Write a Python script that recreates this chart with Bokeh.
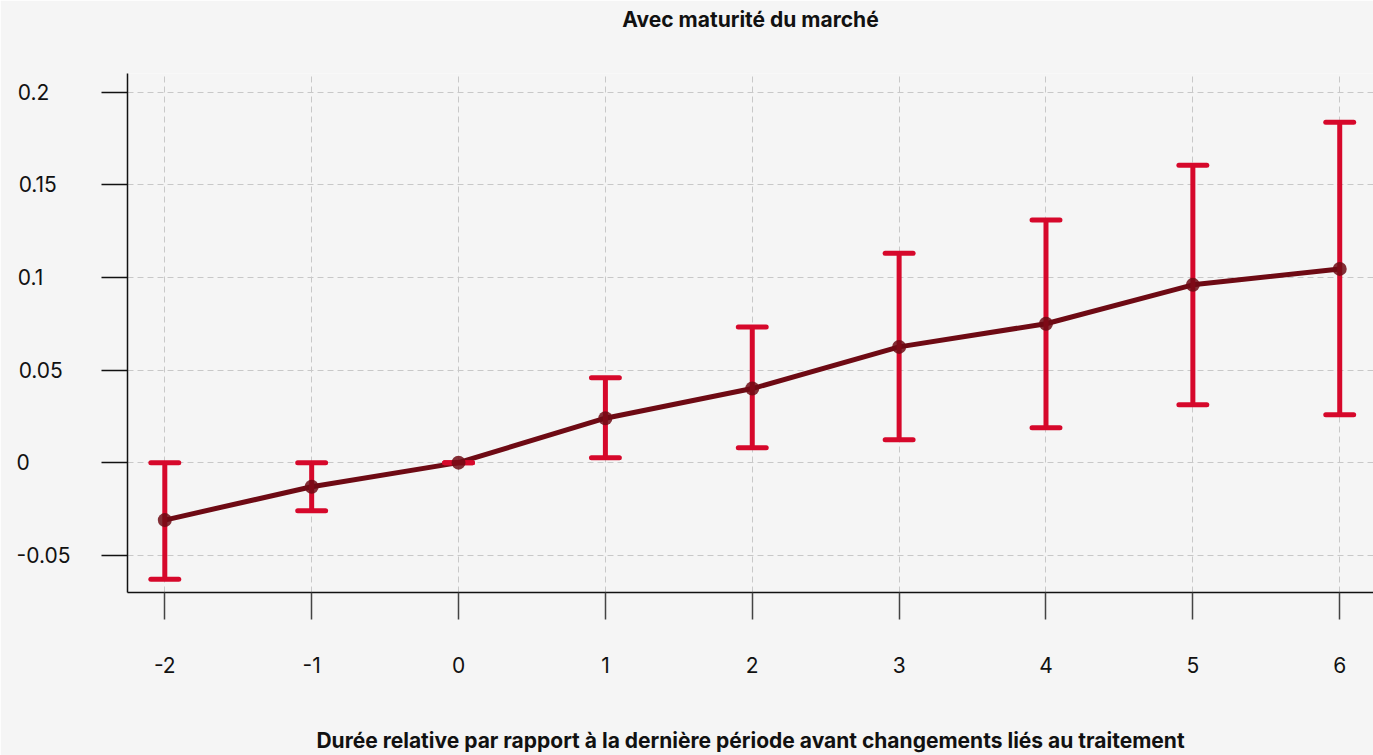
from bokeh.plotting import figure
from bokeh.models import Range1d, FixedTicker, ColumnDataSource, Title
from bokeh.embed import file_html
from bokeh.resources import INLINE

# Data
periods = [-2, -1, 0, 1, 2, 3, 4, 5, 6]
estimates = [-0.031, -0.013, 0.0, 0.024, 0.040, 0.0625, 0.075, 0.096, 0.1046]
lower = [-0.063, -0.026, 0.0, 0.0027, 0.008, 0.0124, 0.0189, 0.0313, 0.0259]
upper = [0.0, 0.0, 0.0, 0.0458, 0.0733, 0.113, 0.131, 0.1606, 0.1838]
y_ticks = [-0.05, 0.0, 0.05, 0.1, 0.15, 0.2]
y_tick_labels = ["-0.05", "0", "0.05", "0.1", "0.15", "0.2"]
x_tick_labels = {-2: "-2", -1: "-1"}
title_text = "Avec maturité du marché"
x_label = "Durée relative par rapport à la dernière période avant changements liés au traitement"

BG = "#f5f5f5"
FONT = "Inter"

# trailing figure/thin spaces make the right-aligned tick labels line up on their left edge
pads = {"-0.05": "", "0": "\u2007\u2007\u2007", "0.05": "\u2009\u2009", "0.1": "\u2007\u2007",
        "0.15": "\u2007", "0.2": "\u2007\u2009\u2009"}

p = figure(width=1373, height=755, output_backend="svg", toolbar_location=None,
           x_range=Range1d(-2.254, 6.23), y_range=Range1d(-0.0701, 0.2101),
           background_fill_color=BG, border_fill_color=BG,
           min_border_left=127, min_border_right=0, min_border_top=73, min_border_bottom=163)
p.outline_line_color = None
p.title_location = None

# spacer (nearest the frame) then the real title above it
spacer = Title(text=" ", text_font=FONT, text_font_size="21px", standoff=15, text_color=BG)
title = Title(text=title_text, align="center", vertical_align="bottom", text_font=FONT,
              text_font_size="21px", text_font_style="bold", text_color="#111111",
              offset=6, standoff=0)
p.add_layout(spacer, "above")
p.add_layout(title, "above")

# Grid
p.xgrid.ticker = FixedTicker(ticks=periods)
p.ygrid.ticker = FixedTicker(ticks=y_ticks)
for g in (p.xgrid, p.ygrid):
    g.grid_line_color = "#c8c8c8"
    g.grid_line_dash = "6 4"
    g.grid_line_width = 1

# X axis
xa = p.xaxis[0]
xa.ticker = FixedTicker(ticks=periods)
xa.major_label_overrides = x_tick_labels
xa.axis_line_color = "#111111"
xa.axis_line_width = 1.5
xa.major_tick_line_color = "#444444"
xa.major_tick_line_width = 1.5
xa.major_tick_out = 27
xa.major_tick_in = 0
xa.minor_tick_line_color = None
xa.major_label_standoff = 37
xa.major_label_text_font = FONT
xa.major_label_text_font_size = "21px"
xa.major_label_text_color = "#111111"
xa.axis_label = x_label
xa.axis_label_text_font = FONT
xa.axis_label_text_font_size = "21px"
xa.axis_label_text_font_style = "bold"
xa.axis_label_text_color = "#111111"
xa.axis_label_standoff = 52

# Y axis
ya = p.yaxis[0]
ya.ticker = FixedTicker(ticks=y_ticks)
ya.major_label_overrides = {v: lab + pads[lab] for v, lab in zip(y_ticks, y_tick_labels)}
ya.axis_line_color = "#111111"
ya.axis_line_width = 1.5
ya.major_tick_line_color = "#111111"
ya.major_tick_line_width = 1.5
ya.major_tick_out = 26
ya.major_tick_in = 0
ya.minor_tick_line_color = None
ya.major_label_standoff = 31
ya.major_label_text_font = FONT
ya.major_label_text_font_size = "21px"
ya.major_label_text_color = "#111111"

src = ColumnDataSource(dict(x=periods, y=estimates, lo=lower, hi=upper))

# Line
p.line("x", "y", source=src, line_color="#6e0a14", line_width=5)

# Error bars
p.segment(x0="x", y0="lo", x1="x", y1="hi", source=src, line_color="#d6082b", line_width=5)
cap_w = 0.19
p.segment(x0=[x - cap_w / 2 for x in periods], y0=lower, x1=[x + cap_w / 2 for x in periods], y1=lower,
          line_color="#d6082b", line_width=5, line_cap="round")
p.segment(x0=[x - cap_w / 2 for x in periods], y0=upper, x1=[x + cap_w / 2 for x in periods], y1=upper,
          line_color="#d6082b", line_width=5, line_cap="round")

# Markers
p.scatter("x", "y", source=src, size=14, fill_color="#6e0a14", line_color=None, fill_alpha=0.85)

open("out.html", "w").write(file_html(p, INLINE))
